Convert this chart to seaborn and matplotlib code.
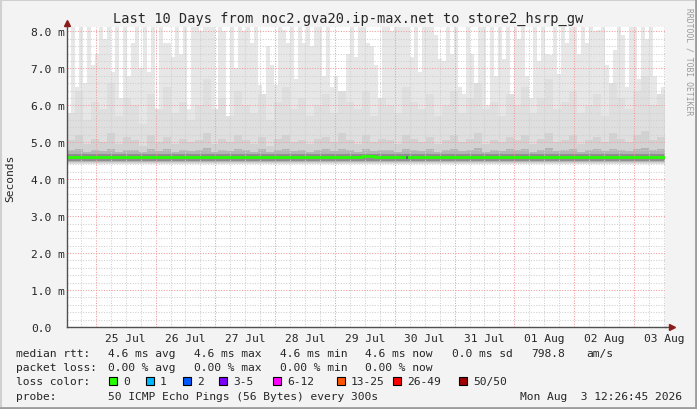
import numpy as np
import pandas as pd
import seaborn as sns
import matplotlib.pyplot as plt
import matplotlib.dates as mdates
from matplotlib.ticker import MultipleLocator, FuncFormatter
from matplotlib.lines import Line2D
from matplotlib.patches import Rectangle

# time range of the graph
end_time = pd.Timestamp('2026-08-03 12:26:45')
start_time = end_time - pd.Timedelta(days=10)

# max ping per 96 min column (ms), 8.3 = clipped at top
top_ms = [
    5.3, 8.3, 6.5, 8.3, 6.6, 8.3, 7.1, 7.4, 8.3, 7.8, 8.3, 6.9, 8.3, 6.2, 8.3,
    6.8, 7.7, 8.3, 7.0, 8.3, 6.9, 8.3, 5.8, 8.3, 7.7, 7.7, 7.3, 8.3, 7.4, 8.3,
    5.9, 8.3, 8.3, 8.0, 8.3, 8.3, 8.3, 5.5, 8.3, 8.0, 5.7, 8.3, 7.0, 8.3, 8.0,
    8.3, 7.7, 8.3, 6.55, 5.8, 7.6, 7.1, 6.55, 8.3, 8.05, 7.7, 8.3, 6.7, 8.3, 7.7,
    8.3, 7.6, 8.3, 8.3, 6.8, 8.3, 6.5, 6.8, 6.4, 5.55, 7.4, 8.3, 7.3, 8.3, 8.3,
    7.7, 7.6, 7.1, 5.95, 8.3, 8.3, 8.0, 8.3, 8.3, 8.3, 8.3, 7.3, 8.3, 6.9, 8.3,
    8.3, 8.3, 7.9, 7.25, 7.2, 8.3, 7.4, 8.3, 6.5, 6.3, 8.3, 7.4, 5.65, 8.3, 8.3,
    6.0, 8.3, 6.8, 8.3, 7.25, 8.3, 5.65, 8.3, 7.8, 8.3, 6.8, 6.2, 8.3, 7.2, 8.3,
    7.4, 7.35, 8.3, 6.85, 8.3, 7.7, 8.3, 8.3, 7.4, 8.3, 7.7, 8.3, 8.0, 8.05, 8.3,
    7.1, 6.2, 7.5, 8.3, 7.9, 6.5, 8.3, 8.3, 6.7, 8.3, 7.8, 8.3, 6.8, 6.1, 6.5,
]

# upper smoke layers per 192 min column (ms)
mid_ms = [
    5.8, 6.4, 5.6, 6.1, 5.9, 6.6, 5.7, 6.2, 6.0, 5.5, 6.3, 5.9, 6.5, 5.8, 6.1,
    5.6, 6.0, 6.7, 5.9, 6.2, 5.7, 6.4, 6.0, 5.8, 6.3, 5.6, 6.1, 6.5, 5.9, 6.2,
    5.7, 6.0, 6.3, 5.8, 6.6, 6.1, 5.9, 6.4, 5.7, 6.2, 6.0, 5.8, 6.5, 6.1, 5.9,
    6.3, 5.7, 6.0, 6.4, 5.8, 6.2, 6.6, 5.9, 6.1, 5.7, 6.3, 6.0, 6.5, 5.8, 6.2,
    6.7, 5.9, 6.1, 6.4, 5.8, 6.0, 6.3, 5.7, 6.6, 6.2, 5.9, 6.4, 6.8, 6.0, 6.3,
]
inner_ms = [
    5.05, 5.20, 4.95, 5.10, 5.00, 5.25, 4.95, 5.15, 5.05, 4.90, 5.20, 5.00, 5.15, 4.95, 5.10,
    5.00, 5.05, 5.25, 4.95, 5.10, 5.00, 5.20, 5.05, 4.95, 5.15, 4.90, 5.10, 5.20, 5.00, 5.05,
    4.95, 5.10, 5.15, 5.00, 5.25, 5.05, 4.95, 5.20, 5.00, 5.10, 5.05, 4.95, 5.20, 5.10, 5.00,
    5.15, 4.95, 5.05, 5.20, 5.00, 5.10, 5.25, 4.95, 5.05, 5.00, 5.15, 5.05, 5.20, 4.95, 5.10,
    5.25, 5.00, 5.05, 5.20, 4.95, 5.05, 5.15, 5.00, 5.25, 5.10, 5.00, 5.20, 5.30, 5.05, 5.15,
]
core_ms = [
    4.78, 4.82, 4.75, 4.80, 4.77, 4.83, 4.74, 4.80, 4.78, 4.73, 4.82, 4.76, 4.81, 4.75, 4.79,
    4.76, 4.78, 4.84, 4.75, 4.80, 4.76, 4.82, 4.78, 4.74, 4.81, 4.73, 4.79, 4.82, 4.76, 4.78,
    4.75, 4.79, 4.81, 4.76, 4.83, 4.78, 4.75, 4.82, 4.76, 4.79, 4.78, 4.74, 4.82, 4.79, 4.76,
    4.81, 4.75, 4.78, 4.82, 4.76, 4.80, 4.84, 4.75, 4.78, 4.76, 4.81, 4.78, 4.82, 4.75, 4.80,
    4.84, 4.76, 4.78, 4.82, 4.75, 4.78, 4.81, 4.76, 4.83, 4.80, 4.76, 4.82, 4.85, 4.78, 4.81,
]
dark_top_ms = 4.67
floor_ms = [4.40, 4.42, 4.44, 4.47, 4.50]
smoke_colors = ['#e7e7e7', '#dfdfdf', '#d2d2d2', '#b4b4b4', '#8e8e8e']

# median rtt per 96 min column (ms)
median_ms = [4.59] * 150
for i in [74, 75, 76]:
    median_ms[i] = 4.63
loss_cols = [85]

loss_labels = ['0', '1', '2', '3-5', '6-12', '13-25', '26-49', '50/50']
loss_colors = ['#26ff00', '#00b8ff', '#0059ff', '#7e00ff', '#ff00ff', '#ff5500', '#ff0000', '#a00000']
loss_x = [109, 146, 183, 219, 273, 337, 393, 459]

sns.set_style('white')
plt.rcParams['font.family'] = ['DejaVu Sans Mono']

W, H = 697, 410
fig = plt.figure(figsize=(W / 100, H / 100), dpi=100, facecolor='#f3f3f3')
ax = fig.add_axes([67 / W, (H - 328) / H, 598 / W, 300 / H])
ax.set_facecolor('white')

t1 = pd.date_range(start_time, periods=len(top_ms), freq='96min')
t1 = np.append(t1.to_numpy(), end_time.to_datetime64())
t2 = pd.date_range(start_time, periods=len(mid_ms), freq='192min')
t2 = np.append(t2.to_numpy(), end_time.to_datetime64())

top = np.array(top_ms + top_ms[-1:])
top2 = np.array([max(top_ms[2 * i], top_ms[2 * i + 1]) for i in range(len(mid_ms))] + [top_ms[-1]])
layers = [
    (t1, top),
    (t2, np.minimum(np.array(mid_ms + mid_ms[-1:]), top2)),
    (t2, np.array(inner_ms + inner_ms[-1:])),
    (t2, np.array(core_ms + core_ms[-1:])),
    (t2, np.full(len(t2), dark_top_ms)),
]
for (tt, vals), lo, col in zip(layers, floor_ms, smoke_colors):
    ax.fill_between(tt, lo, vals, step='post', color=col, linewidth=0, zorder=1)

med = pd.DataFrame({'time': t1, 'rtt': median_ms + median_ms[-1:]})
sns.lineplot(data=med, x='time', y='rtt', drawstyle='steps-post', color='#26ff00',
             lw=2.0, estimator=None, ax=ax, zorder=3)
for c in loss_cols:
    ax.plot([t1[c], t1[c] + np.timedelta64(20, 'm')], [median_ms[c]] * 2,
            color='#5e00aa', lw=2.0, zorder=4, solid_capstyle='butt')

ax.set_xlim(start_time, end_time)
ax.set_ylim(0, 8.12)

# grid
ax.set_yticks(np.arange(0, 9, 1.0))
ax.set_yticklabels(['0.0'] + [f'{v:.1f} m' for v in range(1, 9)])
ax.yaxis.set_minor_locator(MultipleLocator(0.2))
ax.xaxis.set_major_locator(mdates.DayLocator())
ax.xaxis.set_major_formatter(FuncFormatter(lambda v, p: ''))
ax.xaxis.set_minor_locator(mdates.HourLocator(byhour=[6, 12, 18]))
ax.xaxis.set_minor_formatter(FuncFormatter(
    lambda v, p: mdates.num2date(v).strftime('%d %b') if mdates.num2date(v).hour == 12 else ''))
ax.set_axisbelow(False)
ax.grid(which='major', color='#f29a9a', linestyle=(0, (1, 1.5)), lw=0.75)
ax.grid(which='minor', color='#cfcfcf', linestyle=(0, (1, 1.5)), lw=0.75)

ax.tick_params(axis='y', which='major', length=3, color='#606060', pad=23, labelsize=8.1)
ax.tick_params(axis='y', which='minor', length=2, color='#909090')
for lab in ax.get_yticklabels():
    lab.set_horizontalalignment('left')
ax.tick_params(axis='x', which='major', length=3, color='#606060')
ax.tick_params(axis='x', which='minor', length=0, pad=4, labelsize=8.1)
ax.set_xlabel('')
ax.set_ylabel('')

for s in ['top', 'right']:
    ax.spines[s].set_visible(False)
for s in ['left', 'bottom']:
    ax.spines[s].set_color('#505050')
    ax.spines[s].set_linewidth(1)
    ax.spines[s].set_zorder(5)
ax.spines['left'].set_bounds(0, 8.2)
ax.plot([1.0, 1.012], [0, 0], transform=ax.transAxes, color='#505050', lw=1, clip_on=False, zorder=5)
ax.plot([0, 0], [1.0, 1.012], transform=ax.transAxes, color='#505050', lw=1, clip_on=False, zorder=5)
ax.plot([0], [1.015], marker='^', ms=5, color='#8c1c1c', transform=ax.transAxes, clip_on=False, zorder=6)
ax.plot([1.012], [0], marker='>', ms=5, color='#8c1c1c', transform=ax.transAxes, clip_on=False, zorder=6)


def px(x, y):
    return x / W, 1 - y / H


fs = 8.1
fig.text(*px(348.5, 19), 'Last 10 Days from noc2.gva20.ip-max.net to store2_hsrp_gw',
         ha='center', va='center', fontsize=9.8)
fig.text(*px(10, 178), 'Seconds', rotation=90, ha='center', va='center', fontsize=fs)
fig.text(*px(689, 8), 'RRDTOOL / TOBI OETIKER', rotation=270, ha='center', va='top',
         fontsize=5.8, color='#9a9a9a')

rows = [
    (354, [(16, 'median rtt:'), (108, '4.6 ms avg'), (194, '4.6 ms max'), (280, '4.6 ms min'),
           (365, '4.6 ms now'), (452, '0.0 ms sd'), (531, '798.8'), (586, 'am/s')]),
    (368, [(16, 'packet loss:'), (108, '0.00 % avg'), (194, '0.00 % max'), (280, '0.00 % min'),
           (365, '0.00 % now')]),
    (382, [(16, 'loss color:')]),
    (397, [(16, 'probe:'), (108, '50 ICMP Echo Pings (56 Bytes) every 300s')]),
]
for y, items in rows:
    for x, s in items:
        fig.text(*px(x, y), s, ha='left', va='center', fontsize=fs)
fig.text(*px(682, 397), 'Mon Aug  3 12:26:45 2026', ha='right', va='center', fontsize=fs)

for x, lab, col in zip(loss_x, loss_labels, loss_colors):
    fig.patches.append(Rectangle(px(x, 386), 8 / W, 8 / H, transform=fig.transFigure,
                                 facecolor=col, edgecolor='black', lw=0.8))
    fig.text(*px(x + 14, 382), lab, ha='left', va='center', fontsize=fs)

# 3d frame
fig.add_artist(Line2D([0, 1], [1 - 1 / H, 1 - 1 / H], color='#d0d0d0', lw=1.5, transform=fig.transFigure))
fig.add_artist(Line2D([1 / W, 1 / W], [0, 1], color='#d0d0d0', lw=1.5, transform=fig.transFigure))
fig.add_artist(Line2D([0, 1], [1.5 / H, 1.5 / H], color='#9c9c9c', lw=2, transform=fig.transFigure))
fig.add_artist(Line2D([1 - 1.5 / W, 1 - 1.5 / W], [0, 1], color='#9c9c9c', lw=2, transform=fig.transFigure))

fig.savefig('out.png', dpi=100, facecolor=fig.get_facecolor())
